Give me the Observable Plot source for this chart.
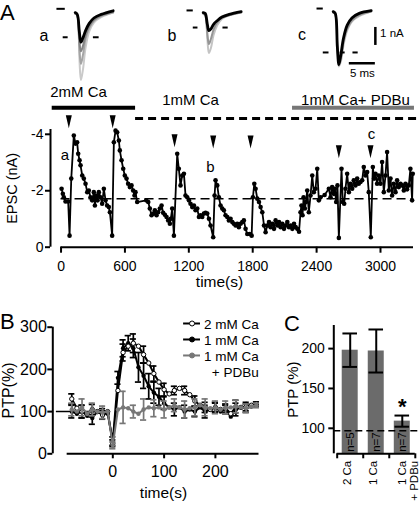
<!DOCTYPE html>
<html>
<head>
<meta charset="utf-8">
<script src="https://cdn.jsdelivr.net/npm/d3@7"></script>
<script src="https://cdn.jsdelivr.net/npm/@observablehq/plot@0.6"></script>
<style>
  html, body { margin: 0; padding: 0; background: #fff; }
  #fig { position: relative; width: 419px; height: 507px; background: #fff; overflow: hidden;
         font-family: "Liberation Sans", Arial, Helvetica, sans-serif; color: #000; }
  .panel { position: absolute; font-size: 22px; line-height: 1.15; }
</style>
</head>
<body>
<div id="fig">
  <div class="panel" style="left:0px;top:0px">A</div>
  <div class="panel" style="left:0px;top:308.5px">B</div>
  <div class="panel" style="left:284px;top:310.5px">C</div>
</div>
<script>
// ================= DATA =================
// Panel A: EPSC amplitude (nA) over time (s)
const epscTime = [
  5,17,26,42,67, 80,96,120,136,151, 161,174,183,199,214, 230,246,261,277,292,
  308,318,330,343,355, 371,386,402,418,433, 449,459,480,496,512, 527,543,552,568,584,
  599,615,630,646,662, 677,690,699,715,
  800,819,834,850,865, 881,897,912,928,944, 959,975,991,1006,1022, 1031,1044,1060,
  1091,1106,1122,1138,1154, 1169,1185,1201,1216,1232, 1248,1263,1279,1295,1310,
  1326,1342,1357,1373,1389, 1404,1429,1442,1451,1467, 1482,1498,1514,1529,1545,
  1561,1576,1592,1608,1623, 1639,1655,1670,1686,1702, 1717,1733,1749,1771,1790,
  1802,1815,1827,1843,1859, 1874,1890,1906,1921,1937, 1953,1968,1984,2000,2015,
  2031,2047,2062,2078,2094, 2109,2125,2141,2156,2172, 2188,2203,2219,2235,
  2249,2258,2268,2278,2290, 2300,2312,2327,2343,2359, 2374,2390,2406,2421,2437,
  2475,2515,2531,2546,2562, 2571,2584,2596,2609,2634, 2646,2659,2671,2687,2703,
  2718,2734,2749,2765,2781, 2796,2812,2828,2843,2859, 2875,2890,2909,2928,2940,
  2953,2968,2984,3000,3015, 3031,3047,3062,3078,3094, 3109,3125,3141,3156,3172,
  3188,3203,3219,3235,3250, 3266,3281,3297,3303
];
const epscAmp = [
  -2.07,-1.89,-1.77,-1.62,-1.62, -0.41,-2.43,-3.96,-3.67,-3.72, -3.31,-3.08,-2.90,-2.54,-2.43, -2.25,-1.95,-2.01,-1.77,-1.66,
  -1.95,-1.48,-1.83,-1.66,-1.95, -1.77,-1.54,-2.07,-1.66,-1.48, -1.42,-1.24,-0.41,-3.72,-4.13, -4.07,-3.78,-3.43,-3.08,-2.78,
  -2.54,-2.43,-2.25,-2.13,-2.19, -2.01,-1.83,-1.95,-1.60,
  -1.66,-1.60,-1.37,-1.13,-1.19, -1.31,-1.13,-1.24,-1.37,-1.48, -1.22,-1.15,-1.07,-0.95,-0.83, -1.01,-1.37,-0.41,
  -3.31,-2.78,-2.19,-2.54,-2.60, -1.83,-1.77,-1.66,-1.54,-1.42, -1.48,-1.31,-1.37,-1.07,-1.13,
  -1.07,-1.19,-1.22,-1.19,-1.01, -0.77,-0.35,-1.83,-2.37,-2.19, -1.77,-1.48,-1.37,-1.31,-1.13,
  -1.07,-0.95,-1.01,-0.89,-0.83, -0.77,-0.83,-0.71,-0.83,-0.89, -0.95,-0.65,-0.47,-0.47,-0.41,
  -1.77,-2.25,-2.07,-1.72,-1.60, -1.42,-1.24,-0.77,-0.53,-0.77, -0.89,-0.71,-0.83,-0.65,-0.95,
  -0.77,-0.89,-0.71,-0.83,-0.65, -0.77,-0.89,-0.71,-0.77,-0.65, -0.83,-0.71,-0.65,-0.55,
  -1.24,-1.48,-1.13,-1.77,-1.37, -1.60,-2.01,-1.24,-1.83,-2.54, -1.95,-2.07,-2.78,-1.66,-1.77,
  -1.85,-2.07,-1.77,-2.13,-1.89, -2.07,-1.60,-2.19,-0.33,-2.78, -1.60,-1.54,-2.07,-2.60,-1.95,
  -2.25,-2.07,-2.37,-2.19,-2.43, -2.25,-2.31,-2.37,-2.84,-2.54, -2.66,-1.95,-0.35,-2.84,-2.43,
  -2.60,-2.25,-2.54,-2.25,-3.02, -1.95,-2.54,-3.37,-2.01,-2.43, -1.83,-2.25,-1.95,-2.37,-2.13,
  -2.25,-2.19,-2.01,-2.25,-2.05, -2.19,-2.78,-1.66,-2.60
];
const epscBaseline = -1.72;
const stimTime = [73, 485, 1066, 1429, 1780, 2609, 2906];
const stimMarkAmp = [-4.21, -4.21, -3.54, -3.50, -3.50, -3.15, -3.15];
const sampleLabel = ["a", "b", "c"];
const sampleTime = [36, 1404, 2916];
const sampleAmp = [-3.25, -2.84, -3.99];
const condLabel = ["2mM Ca", "1mM Ca", "1mM Ca+ PDBu"];
const condStart = [-83, 700, 2174];
const condEnd = [700, 3380, 3319];
const condLabelTime = [164, 1216, 2765];
const aXTicks = [0, 600, 1200, 1800, 2400, 3000];
const aYTicks = [0, -2, -4];

// Panel A insets: sample EPSC traces (time in ms, current in nA)
const traceTime = [0, 0.4, 0.8, 1.1, 1.5, 2.0, 2.7, 3.6, 5.0, 7.3];
const traceA_g1 = [0, -0.1, -2.4, -3.7, -3.1, -1.9, -1.0, -0.5, -0.2, 0.05];
const traceA_g2 = [0, -0.1, -1.9, -2.8, -2.3, -1.4, -0.8, -0.4, -0.15, 0.05];
const traceA_g3 = [0, -0.1, -1.5, -2.1, -1.8, -1.2, -0.7, -0.35, -0.1, 0.1];
const traceA_k  = [0.05, -0.05, -1.0, -1.6, -1.35, -0.95, -0.55, -0.25, -0.05, 0.15];
const traceB_g1 = [0, -0.1, -1.4, -2.2, -1.9, -1.2, -0.65, -0.3, -0.1, 0.05];
const traceB_g2 = [0, -0.1, -1.1, -1.7, -1.4, -0.9, -0.5, -0.25, -0.1, 0.05];
const traceB_k  = [0.05, 0, -0.6, -0.95, -0.85, -0.6, -0.4, -0.2, -0.05, 0.1];
const traceC_g1 = [0, -0.1, -2.0, -3.0, -2.7, -1.8, -1.0, -0.5, -0.2, 0.05];
const traceC_g2 = [0, -0.1, -1.8, -2.8, -2.5, -1.6, -0.9, -0.45, -0.15, 0.05];
const traceC_k  = [0.05, -0.05, -1.9, -2.9, -2.3, -1.4, -0.7, -0.3, -0.05, 0.1];
const dashA_x1 = [-3.5, -2.3, 3.5], dashA_x2 = [-1.9, -1.35, 4.6], dashA_y = [0.26, -1.32, -1.32];
const dashB_x1 = [-3.1, -1.9, 3.8], dashB_x2 = [-1.9, -1.0, 4.8], dashB_y = [0.17, -0.78, -0.78];
const dashC_x1 = [-3.1, -1.9, 1.35, 3.8], dashC_x2 = [-1.9, -0.8, 2.3, 4.8], dashC_y = [0.22, -2.22, -2.22, -2.22];
const scaleMs = 5, scaleNA = 1;

// Panel B: PTP (%) vs time (s)
const ptpTime = [-80,-70,-60,-50,-40,-30,-20,-10,0,10,20,30,40,50,60,70,80,90,100,
                 110,120,130,140,150,160,170,180,190,200,210,220,230,240,250,260,270,280];
const ptp2Ca  = [130,108,100,95,105,100,92,100,25,150,240,255,262,255,235,215,190,170,152,
                 142,150,155,150,140,125,115,110,105,110,105,108,95,112,110,112,115,118];
const sem2Ca  = [12,0,15,0,12,0,10,0,8,0,20,0,22,0,20,0,18,0,15,
                 0,10,0,10,0,12,0,12,0,10,0,10,0,15,0,10,0,5];
const ptp1Ca  = [100,95,100,90,85,100,95,95,30,180,250,262,250,205,185,160,145,135,120,
                 110,105,110,100,105,100,110,100,105,110,100,105,88,105,110,108,112,115];
const sem1Ca  = [15,0,15,0,15,0,12,0,10,15,20,18,22,35,30,30,25,20,15,
                 0,15,0,15,0,12,0,15,0,12,0,10,0,15,0,10,0,5];
const ptpPDBu = [105,100,110,95,105,100,98,100,20,105,110,108,100,95,105,110,108,110,105,
                 110,115,110,105,108,110,115,110,108,110,105,110,110,112,110,108,112,115];
const semPDBu = [15,0,20,0,15,0,15,0,8,0,38,0,15,0,25,0,20,0,20,
                 0,15,0,20,0,20,0,20,0,15,0,15,0,15,0,10,0,5];
const bSeries = ["2 mM Ca", "1 mM Ca", "1 mM Ca\n+ PDBu"];
const bXTicks = [0, 100, 200];
const bYTicks = [0, 100, 200, 300];
const bRef = 100;

// Panel C: mean PTP (%)
const cCats = ["2 Ca", "1 Ca", "1 Ca\n+ PDBu"];
const cMean = [198, 197, 109];
const cSem = [21, 27, 7];
const cN = ["n=5", "n=7", "n=7"];
const cSig = ["", "", "*"];
const cRef = 97;
const cYTicks = [100, 150, 200];

// ================= DRAWING =================
const fig = document.getElementById("fig");
const FONT = '"Liberation Sans", Arial, Helvetica, sans-serif';
const baseStyle = {fontFamily: FONT, fontSize: "14px", background: "transparent", overflow: "visible", color: "#000"};
function place(svg, left, top) {
  svg.style.position = "absolute";
  svg.style.left = left + "px";
  svg.style.top = top + "px";
  svg.style.maxWidth = "none";
  fig.appendChild(svg);
}
const GRAY = "#777";
const plain = d => String(d);

// ---------- Panel A main ----------
const epsc = epscTime.map((t, i) => ({t, v: epscAmp[i]}));
const aX0 = -99, aX1 = 3310, aYTop = -4.17;
const tri = {draw(ctx, size) {
  const k = Math.sqrt(size / Math.PI) / 4;
  ctx.moveTo(0, 0); ctx.lineTo(-3 * k, -13 * k); ctx.lineTo(3 * k, -13 * k); ctx.closePath();
}};
const condRowY = [-4.94, -4.56, -4.94];
const condTextY = [-5.49, -5.20, -5.20];
const cond = condLabel.map((label, i) => ({label, x1: condStart[i], x2: condEnd[i], xt: condLabelTime[i], y: condRowY[i], yt: condTextY[i]}));

const plotA = Plot.plot({
  width: 419, height: 215,
  marginLeft: 50, marginRight: 6, marginTop: 49, marginBottom: 48.3,
  style: baseStyle,
  x: {domain: [aX0, aX1]},
  y: {domain: [0, aYTop]},
  marks: [
    Plot.ruleY([epscBaseline], {x1: 0, x2: aX1, strokeDasharray: "9,5", strokeWidth: 1.5}),
    Plot.ruleX([aX0], {y1: 0, y2: aYTop, strokeWidth: 2}),
    Plot.ruleY([0], {x1: 0, x2: aX1, strokeWidth: 2}),
    Plot.axisX({ticks: aXTicks, tickSize: 6, tickPadding: 8, strokeWidth: 2, fontSize: 14, label: null, tickFormat: plain}),
    Plot.axisY({ticks: aYTicks, tickSize: 5, tickPadding: 2, strokeWidth: 2, fontSize: 14, label: null, tickFormat: plain}),
    Plot.text(["EPSC (nA)"], {text: d => d, frameAnchor: "left", rotate: -90, dx: -38, textAnchor: "middle", lineAnchor: "middle", fontSize: 14.5}),
    Plot.text(["time(s)"], {text: d => d, frameAnchor: "bottom", dx: -12.5, dy: 35, textAnchor: "middle", lineAnchor: "middle", fontSize: 15.5}),
    Plot.line(epsc, {x: "t", y: "v", stroke: "#000", strokeWidth: 1.8}),
    Plot.dot(epsc, {x: "t", y: "v", r: 2.3, fill: "#000"}),
    Plot.dot(stimTime.map((t, i) => ({t, v: stimMarkAmp[i]})), {x: "t", y: "v", symbol: tri, r: 4, fill: "#000", stroke: "none"}),
    Plot.text(sampleLabel, {x: (d, i) => sampleTime[i], y: (d, i) => sampleAmp[i], text: d => d, fontSize: 15}),
    Plot.ruleY(cond.slice(0, 1), {y: "y", x1: "x1", x2: "x2", stroke: "#000", strokeWidth: 4}),
    Plot.ruleY(cond.slice(1, 2), {y: "y", x1: "x1", x2: "x2", stroke: "#000", strokeWidth: 3, strokeDasharray: "8,5"}),
    Plot.ruleY(cond.slice(2, 3), {y: "y", x1: "x1", x2: "x2", stroke: GRAY, strokeWidth: 4}),
    Plot.text(cond, {x: "xt", y: "yt", text: "label", fontSize: 15})
  ]
});
place(plotA, 0, 80);

// ---------- Panel A insets ----------
function inset(traces, colors, dx1, dx2, dy, letter, extra) {
  const marks = [];
  traces.forEach((tr, k) => {
    marks.push(Plot.line(traceTime.map((t, j) => ({t, v: tr[j]})),
      {x: "t", y: "v", stroke: colors[k], strokeWidth: k === traces.length - 1 ? 2.8 : 2, curve: "catmull-rom"}));
  });
  marks.push(Plot.ruleY(dy.map((y, i) => ({y, x1: dx1[i], x2: dx2[i]})), {y: "y", x1: "x1", x2: "x2", strokeWidth: 2}));
  marks.push(Plot.text([letter], {text: d => d, x: -6, y: -1.22, fontSize: 16}));
  return Plot.plot({
    width: 125, height: 81, margin: 0,
    style: baseStyle,
    x: {domain: [-8, 16], axis: null},
    y: {domain: [-4, 0.5], axis: null},
    marks: marks.concat(extra || [])
  });
}
const insetColors3 = ["#cacaca", "#a4a4a4", "#858585", "#000"];
const insetColors2 = ["#c4c4c4", "#959595", "#000"];
place(inset([traceA_g1, traceA_g2, traceA_g3, traceA_k], insetColors3, dashA_x1, dashA_x2, dashA_y, "a"), 33.4, 4);
place(inset([traceB_g1, traceB_g2, traceB_k], insetColors2, dashB_x1, dashB_x2, dashB_y, "b"), 161.4, 4);
const sbX = 8.1, sbTop = -0.83, sbY = -2.82;
place(inset([traceC_g1, traceC_g2, traceC_k], insetColors2, dashC_x1, dashC_x2, dashC_y, "c", [
  Plot.ruleX([sbX], {y1: sbTop, y2: sbTop - scaleNA, strokeWidth: 2.5}),
  Plot.ruleY([sbY], {x1: sbX - scaleMs, x2: sbX, strokeWidth: 2.5}),
  Plot.text([scaleNA + " nA"], {text: d => d, x: sbX + 0.9, y: sbTop - 0.34, textAnchor: "start", fontSize: 11.5}),
  Plot.text([scaleMs + " ms"], {text: d => d, x: sbX - scaleMs / 2, y: sbY - 0.55, fontSize: 11.5})
]), 291.4, 3);

// ---------- Panel B ----------
const bX0 = -117, bX1 = 285;
const mk = (vals, sems) => ptpTime.map((t, i) => ({t, v: vals[i], e: sems[i]}));
const s2 = mk(ptp2Ca, sem2Ca), s1 = mk(ptp1Ca, sem1Ca), sP = mk(ptpPDBu, semPDBu);
const capW = 6;
function errMarks(data, color) {
  const d = data.filter(p => p.e > 0);
  return [
    Plot.ruleX(d, {x: "t", y1: p => p.v - p.e, y2: p => p.v + p.e, stroke: color, strokeWidth: 1.7}),
    Plot.ruleY(d, {y: p => p.v + p.e, x1: p => p.t - capW, x2: p => p.t + capW, stroke: color, strokeWidth: 1.7}),
    Plot.ruleY(d, {y: p => p.v - p.e, x1: p => p.t - capW, x2: p => p.t + capW, stroke: color, strokeWidth: 1.7})
  ];
}
const lgX1 = 138, lgX2 = 171, lgTx = 284.4;
const lgLineY = [308.8, 270.9, 233.0];
const lgTextY = [308.8, 270.9, 214.0];
const lgFill = ["#fff", "#000", GRAY], lgStroke = ["#000", "#000", GRAY];
const legend = bSeries.map((label, i) => ({label, y: lgLineY[i], yt: lgTextY[i], fill: lgFill[i], stroke: lgStroke[i]}));

const plotB = Plot.plot({
  width: 280, height: 207,
  marginLeft: 52.3, marginRight: 21.5, marginTop: 26.7, marginBottom: 53.7,
  style: baseStyle,
  x: {domain: [bX0, bX1]},
  y: {domain: [0, 300]},
  marks: [
    Plot.ruleY([bRef], {x1: -110, x2: -5, strokeWidth: 1.5}),
    ...errMarks(s1, "#000"),
    ...errMarks(s2, "#000"),
    Plot.line(s1, {x: "t", y: "v", stroke: "#000", strokeWidth: 2}),
    Plot.line(s2, {x: "t", y: "v", stroke: "#000", strokeWidth: 2}),
    Plot.dot(s1, {x: "t", y: "v", r: 2.2, fill: "#000"}),
    Plot.dot(s2, {x: "t", y: "v", r: 2.2, fill: "#fff", stroke: "#000", strokeWidth: 1}),
    ...errMarks(sP, GRAY),
    Plot.line(sP, {x: "t", y: "v", stroke: GRAY, strokeWidth: 2}),
    Plot.dot(sP, {x: "t", y: "v", r: 2.2, fill: GRAY}),
    Plot.ruleX([bX0], {y1: 0, y2: 300, strokeWidth: 2}),
    Plot.ruleY([0], {x1: -89, x2: bX1, strokeWidth: 2}),
    Plot.axisX({ticks: bXTicks, tickSize: 5, tickPadding: 7, strokeWidth: 2, fontSize: 16, label: null, tickFormat: plain}),
    Plot.axisY({ticks: bYTicks, tickSize: 5, tickPadding: 1, strokeWidth: 2, fontSize: 16, label: null, tickFormat: plain}),
    Plot.text(["PTP(%)"], {text: d => d, frameAnchor: "left", rotate: -90, dx: -44.3, textAnchor: "middle", lineAnchor: "middle", fontSize: 16}),
    Plot.text(["time(s)"], {text: d => d, frameAnchor: "bottom", dx: 7.6, dy: 39.7, textAnchor: "middle", lineAnchor: "middle", fontSize: 15.5}),
    // legend
    Plot.ruleY(legend, {y: "y", x1: lgX1, x2: lgX2, stroke: "stroke", strokeWidth: 2}),
    Plot.dot(legend, {x: (lgX1 + lgX2) / 2, y: "y", r: 2.5, fill: d => d.fill, stroke: d => d.stroke, strokeWidth: 1}),
    Plot.text(legend, {x: lgTx, y: "yt", text: "label", textAnchor: "end", lineAnchor: "middle", fontSize: 13.5, lineHeight: 1.185})
  ]
});
place(plotB, 0, 300);

// ---------- Panel C ----------
const cIdx = d3.range(cCats.length);
const cX0 = -0.63, cX1 = 2.5, cY0 = 68, cY1 = 229;
const half = 0.307, cap = 0.28;
const plotC = Plot.plot({
  width: 139, height: 207,
  marginLeft: 53.3, marginRight: 4.2, marginTop: 25, marginBottom: 53.7,
  style: baseStyle,
  x: {domain: [cX0, cX1]},
  y: {domain: [cY0, cY1]},
  marks: [
    Plot.rectY(cIdx, {x1: i => i - half, x2: i => i + half, y1: cY0, y2: i => cMean[i], fill: "#6b6b6b"}),
    Plot.ruleX(cIdx, {x: i => i, y1: i => cMean[i] - cSem[i], y2: i => cMean[i] + cSem[i], strokeWidth: 2}),
    Plot.ruleY(cIdx, {y: i => cMean[i] + cSem[i], x1: i => i - cap, x2: i => i + cap, strokeWidth: 2}),
    Plot.ruleY(cIdx, {y: i => cMean[i] - cSem[i], x1: i => i - cap, x2: i => i + cap, strokeWidth: 2}),
    Plot.ruleY([cRef], {x1: cX0, x2: 2.66, strokeDasharray: "7,4", strokeWidth: 1.6}),
    Plot.text(cN, {x: (d, i) => i, y: cY0, text: d => d, rotate: -90, textAnchor: "start", lineAnchor: "middle", dy: -2, fontSize: 11.5}),
    Plot.text(cSig, {x: (d, i) => i, y: (d, i) => cMean[i] + cSem[i] + 11, text: d => d, fontSize: 22, fontWeight: "bold"}),
    Plot.ruleX([cX0], {y1: cY0, y2: cY1, strokeWidth: 2}),
    Plot.ruleY([cY0], {x1: -0.5, x2: 2.5, strokeWidth: 2}),
    Plot.axisY({ticks: cYTicks, tickSize: 5, tickPadding: 4, strokeWidth: 2, fontSize: 14, label: null, tickFormat: plain}),
    Plot.axisX({ticks: [-0.5, 0.5, 1.5, 2.5], tickSize: 5, tickFormat: () => "", strokeWidth: 2, label: null}),
    Plot.text(cCats.slice(0, 2), {x: (d, i) => i, y: cY0, text: d => d, rotate: -90, textAnchor: "end", lineAnchor: "middle", dx: -3, dy: 7, fontSize: 11.5}),
    Plot.text(cCats.slice(2), {x: 2, y: cY0, text: d => d, rotate: -90, textAnchor: "end", lineAnchor: "middle", dx: 6, dy: 7, fontSize: 11.5, lineHeight: 1}),
    Plot.text(["PTP (%)"], {text: d => d, frameAnchor: "left", rotate: -90, dx: -41, textAnchor: "middle", lineAnchor: "middle", fontSize: 15})
  ]
});
place(plotC, 280, 300);
</script>
</body>
</html>
